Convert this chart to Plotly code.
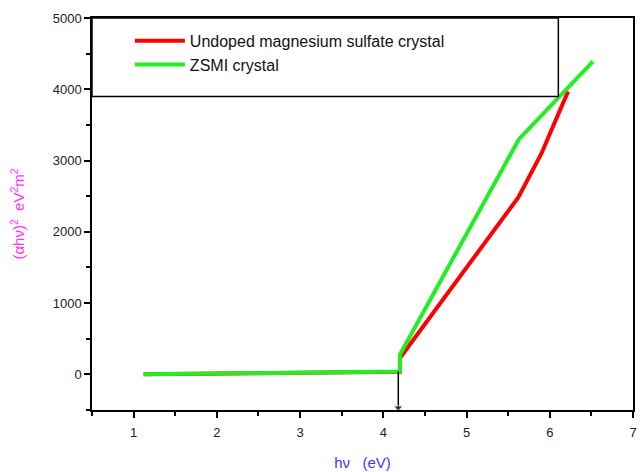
import plotly.graph_objects as go

# Data
undoped_x = [1.12, 4.17, 4.20, 4.20, 5.62, 5.90, 6.22]
undoped_y = [0, 38, 38, 230, 2480, 3100, 3970]
zsmi_x = [1.12, 4.17, 4.20, 4.20, 5.63, 6.52]
zsmi_y = [0, 40, 40, 280, 3300, 4390]
gap_x = [4.18, 4.18]
gap_y = [40, -470]

x_ticks = [1, 2, 3, 4, 5, 6, 7]
y_ticks = [0, 1000, 2000, 3000, 4000, 5000]

fig = go.Figure()
fig.add_trace(go.Scatter(x=undoped_x, y=undoped_y, mode="lines",
                         name="Undoped magnesium sulfate crystal",
                         line=dict(color="#ff0000", width=4)))
fig.add_trace(go.Scatter(x=zsmi_x, y=zsmi_y, mode="lines",
                         name="ZSMI crystal",
                         line=dict(color="#22ee22", width=4)))
fig.add_trace(go.Scatter(x=gap_x, y=gap_y, mode="lines+markers",
                         showlegend=False, cliponaxis=False,
                         line=dict(color="black", width=1.5),
                         marker=dict(symbol=["circle", "triangle-down"], size=[0, 8], color="black")))

fig.add_shape(type="rect", xref="paper", yref="paper", x0=0, x1=0.862, y0=0.80, y1=1,
              line=dict(color="black", width=1.5), fillcolor="rgba(0,0,0,0)", layer="above")

fig.update_layout(
    width=640, height=472,
    margin=dict(l=92, r=3, t=18, b=62),
    paper_bgcolor="white", plot_bgcolor="white",
    font=dict(family="Liberation Sans, Arial", size=13, color="#222222"),
    legend=dict(x=0.07, y=0.985, xanchor="left", yanchor="top",
                bgcolor="rgba(0,0,0,0)", borderwidth=0,
                font=dict(size=16, color="#111111"), tracegroupgap=0,
                itemwidth=50),
    xaxis=dict(range=[0.5, 7], tickvals=x_ticks, ticks="outside", ticklen=6, tickwidth=1.5,
               showline=True, linecolor="black", linewidth=1.5, mirror=True,
               showgrid=False, zeroline=False, ticklabelstandoff=4,
               minor=dict(dtick=0.5, tick0=0.5, ticks="outside", ticklen=4, tickwidth=1.5, tickcolor="black"),
               tickcolor="black",
               title=dict(text="h\u03bd   (eV)", font=dict(size=15, color="#4433ff"), standoff=18)),
    yaxis=dict(range=[-500, 5000], tickvals=y_ticks, ticks="outside", ticklen=6, tickwidth=1.5,
               showline=True, linecolor="black", linewidth=1.5, mirror=True,
               showgrid=False, zeroline=False,
               minor=dict(dtick=500, tick0=0, ticks="outside", ticklen=4, tickwidth=1.5, tickcolor="black"),
               tickcolor="black",
               title=dict(text="(\u03b1h\u03bd)<sup>2</sup>  eV<sup>2</sup>m<sup>2</sup>",
                          font=dict(size=15, color="#ff33ff"), standoff=24)),
)

fig.write_html("out.html")
